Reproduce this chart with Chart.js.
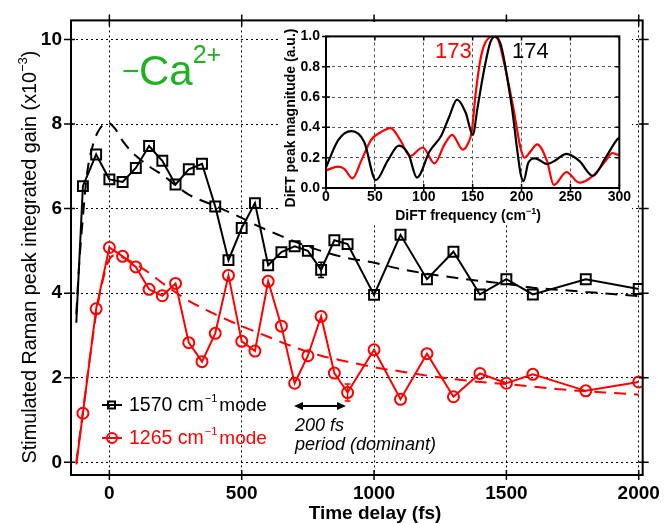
<!DOCTYPE html>
<html>
<head>
<meta charset="utf-8">
<script src="https://cdn.jsdelivr.net/npm/chart.js@4.4.1/dist/chart.umd.min.js"></script>
<style>
  html, body { margin: 0; padding: 0; background: #fff; }
  #wrap { position: relative; width: 667px; height: 523px; }
  #main { position: absolute; left: 0; top: 0; }
  #insetBox { position: absolute; left: 280px; top: 22px; width: 352px; height: 202px; background: #fff; }
</style>
</head>
<body>
<div id="wrap">
  <canvas id="main" width="667" height="523"></canvas>
  <div id="insetBox"><canvas id="inset" width="352" height="202"></canvas></div>
</div>
<script>
// main panel: SRS gain vs time delay
const delayFs = [-125, -100, -50, 0, 50, 100, 150, 200, 250, 300, 350, 400, 450, 500, 550, 600, 650, 700, 750, 800, 850, 900, 1000, 1100, 1200, 1300, 1400, 1500, 1600, 1800, 2000];
const gain1570 = [3.3, 6.53, 7.28, 6.69, 6.63, 6.96, 7.48, 7.13, 6.57, 6.93, 7.06, 6.05, 4.78, 5.54, 6.13, 4.66, 4.97, 5.11, 5.0, 4.55, 5.25, 5.16, 3.96, 5.38, 4.33, 4.98, 3.97, 4.33, 3.97, 4.33, 4.1];
const gain1265 = [-0.05, 1.16, 3.63, 5.08, 4.87, 4.62, 4.09, 3.94, 4.23, 2.83, 2.38, 3.05, 4.42, 2.86, 2.63, 4.28, 3.22, 1.87, 2.52, 3.45, 2.11, 1.65, 2.66, 1.49, 2.57, 1.55, 2.1, 1.87, 2.08, 1.69, 1.9];

const fit1570T = [-125, -115, -100, -85, -60, -35, -5, 20, 50, 80, 100, 150, 200, 250, 300, 400, 500, 550, 600, 650, 700, 800, 900, 1000, 1100, 1200, 1300, 1400, 1500, 1600, 1700, 1800, 1900, 2000];
const fit1570V = [3.5, 4.6, 5.8, 6.8, 7.55, 7.9, 8.03, 7.9, 7.6, 7.37, 7.25, 7.0, 6.8, 6.55, 6.33, 6.06, 5.78, 5.62, 5.48, 5.35, 5.22, 5.0, 4.83, 4.72, 4.57, 4.46, 4.37, 4.29, 4.22, 4.13, 4.08, 4.03, 3.98, 3.93];
const fit1265T = [-125, -100, -75, -50, -25, 0, 25, 50, 100, 150, 200, 250, 300, 350, 400, 500, 600, 700, 800, 900, 1000, 1100, 1200, 1300, 1400, 1500, 1600, 1700, 1800, 1900, 2000];
const fit1265V = [0.0, 1.2, 2.4, 3.5, 4.3, 4.8, 4.9, 4.85, 4.68, 4.48, 4.24, 4.02, 3.82, 3.65, 3.5, 3.22, 2.97, 2.72, 2.52, 2.38, 2.25, 2.15, 2.05, 1.97, 1.9, 1.85, 1.79, 1.73, 1.68, 1.64, 1.6];

const err1570T = [800];
const err1570E = [0.18];
const err1265T = [900];
const err1265E = [0.2];

const timeTicks = [0, 500, 1000, 1500, 2000];
const gainTicks = [0, 2, 4, 6, 8, 10];

// inset: DiFT spectra
const freq1570 = [0, 12.5, 26, 39, 51, 63, 74.5, 84.5, 93, 106, 118, 126, 134, 143, 150, 155, 160, 164, 168, 173, 178, 182, 186, 190.5, 195, 199, 202, 207, 214, 226, 234, 246, 259, 273, 286, 298, 300];
const mag1570 = [0.136, 0.316, 0.375, 0.305, 0.052, 0.179, 0.28, 0.221, 0.069, 0.242, 0.347, 0.47, 0.583, 0.495, 0.35, 0.53, 0.72, 0.853, 0.96, 1.0, 0.96, 0.853, 0.7, 0.515, 0.28, 0.095, 0.045, 0.168, 0.196, 0.158, 0.18, 0.225, 0.179, 0.08, 0.2, 0.322, 0.33];
const freq1265 = [0, 12.5, 19, 27, 36, 46, 56, 66, 76, 86, 99, 111, 121, 129, 140, 145, 149, 153, 158, 163, 171, 176, 182, 187, 192, 199, 203, 209, 216, 226, 233, 246, 259, 273, 286, 293, 298, 300];
const mag1265 = [0.116, 0.141, 0.125, 0.063, 0.179, 0.316, 0.368, 0.395, 0.316, 0.21, 0.267, 0.162, 0.284, 0.351, 0.253, 0.29, 0.37, 0.62, 0.85, 0.96, 1.0, 0.98, 0.83, 0.68, 0.515, 0.263, 0.2, 0.24, 0.288, 0.179, 0.02, 0.105, 0.035, 0.08, 0.179, 0.231, 0.22, 0.22];

const freqTicks = [0, 50, 100, 150, 200, 250, 300];
const magTicks = [0, 0.2, 0.4, 0.6, 0.8, 1.0];

const FONT = "'Liberation Sans', Arial, Helvetica, sans-serif";
Chart.defaults.font.family = FONT;

function pts(xs, ys) {
  return xs.map((x, i) => ({ x, y: ys[i] }));
}

// draws a run of text pieces (for superscripts); align 'left' or 'center'
function richText(ctx, parts, x, y, align) {
  let w = 0;
  parts.forEach((p) => { ctx.font = p.font; w += ctx.measureText(p.text).width + (p.gap || 0); });
  let cx = align === 'center' ? x - w / 2 : x;
  ctx.textAlign = 'left';
  ctx.textBaseline = 'alphabetic';
  parts.forEach((p) => {
    ctx.font = p.font;
    ctx.fillStyle = p.color || '#000';
    cx += p.gap || 0;
    ctx.fillText(p.text, cx, y - (p.rise || 0));
    cx += ctx.measureText(p.text).width;
  });
}

function errorBars(ctx, xs, ys, errT, errE, color, sx, sy) {
  ctx.strokeStyle = color;
  ctx.lineWidth = 1.5;
  ctx.beginPath();
  errT.forEach((t, i) => {
    const v = ys[xs.indexOf(t)];
    const px = sx.getPixelForValue(t);
    const y1 = sy.getPixelForValue(v + errE[i]);
    const y2 = sy.getPixelForValue(v - errE[i]);
    ctx.moveTo(px, y1); ctx.lineTo(px, y2);
    ctx.moveTo(px - 3, y1); ctx.lineTo(px + 3, y1);
    ctx.moveTo(px - 3, y2); ctx.lineTo(px + 3, y2);
  });
  ctx.stroke();
}

function legendLabel(ctx, num, color, x, y) {
  richText(ctx, [
    { text: num + ' cm', font: `19.5px ${FONT}`, color },
    { text: '\u22121', font: `11px ${FONT}`, color, rise: 9, gap: 1 },
    { text: 'mode', font: `19px ${FONT}`, color, gap: 2 },
  ], x, y, 'left');
}

const mainDecor = {
  id: 'mainDecor',
  afterDraw(chart) {
    const { ctx, chartArea: a, scales: { x, y } } = chart;
    ctx.save();
    errorBars(ctx, delayFs, gain1570, err1570T, err1570E, '#000', x, y);
    errorBars(ctx, delayFs, gain1265, err1265T, err1265E, '#ff0000', x, y);

    // ticks on all four sides
    ctx.strokeStyle = '#000';
    ctx.lineWidth = 1.5;
    ctx.beginPath();
    timeTicks.forEach((v) => {
      const px = x.getPixelForValue(v);
      ctx.moveTo(px, a.top - 6); ctx.lineTo(px, a.top + 6);
      ctx.moveTo(px, a.bottom - 5); ctx.lineTo(px, a.bottom + 5);
    });
    gainTicks.forEach((v) => {
      const py = y.getPixelForValue(v);
      ctx.moveTo(a.left - 7, py); ctx.lineTo(a.left + 4, py);
      ctx.moveTo(a.right - 4, py); ctx.lineTo(a.right + 6, py);
    });
    ctx.stroke();
    ctx.lineWidth = 2;
    ctx.strokeRect(a.left, a.top, a.right - a.left, a.bottom - a.top);

    // axis titles
    richText(ctx, [{ text: 'Time delay (fs)', font: `bold 19px ${FONT}` }], 375, 519, 'center');
    ctx.save();
    ctx.translate(36, 257);
    ctx.rotate(-Math.PI / 2);
    richText(ctx, [
      { text: 'Stimulated Raman peak integrated gain (x10', font: `19.8px ${FONT}` },
      { text: '\u22123', font: `13px ${FONT}`, rise: 9 },
      { text: ')', font: `19.8px ${FONT}` },
    ], 0, 0, 'center');
    ctx.restore();

    // -Ca2+ label
    richText(ctx, [{ text: '\u2212', font: `30px ${FONT}`, color: '#1fb11f' }], 122, 81, 'left');
    richText(ctx, [
      { text: 'Ca', font: `42px ${FONT}`, color: '#1fb11f' },
      { text: '2+', font: `25px ${FONT}`, color: '#1fb11f', rise: 22 },
    ], 139, 85, 'left');

    // legend
    ctx.lineWidth = 2;
    ctx.strokeStyle = '#000';
    ctx.beginPath(); ctx.moveTo(102, 405); ctx.lineTo(122, 405); ctx.stroke();
    ctx.strokeRect(108, 401.5, 7, 7);
    legendLabel(ctx, '1570', '#000', 129, 411);
    ctx.strokeStyle = '#ff0000';
    ctx.beginPath(); ctx.moveTo(102, 438); ctx.lineTo(122, 438); ctx.stroke();
    ctx.beginPath(); ctx.arc(112, 438, 5, 0, Math.PI * 2); ctx.stroke();
    legendLabel(ctx, '1265', '#ff0000', 129, 444);

    // 200 fs arrow
    ctx.strokeStyle = '#000';
    ctx.fillStyle = '#000';
    ctx.lineWidth = 2;
    ctx.beginPath(); ctx.moveTo(300, 406); ctx.lineTo(340, 406); ctx.stroke();
    ctx.beginPath(); ctx.moveTo(294, 406); ctx.lineTo(303, 402); ctx.lineTo(303, 410); ctx.closePath(); ctx.fill();
    ctx.beginPath(); ctx.moveTo(346, 406); ctx.lineTo(337, 402); ctx.lineTo(337, 410); ctx.closePath(); ctx.fill();
    richText(ctx, [{ text: '200 fs', font: `italic 18px ${FONT}` }], 295, 431, 'left');
    richText(ctx, [{ text: 'period (dominant)', font: `italic 18px ${FONT}` }], 295, 450, 'left');
    ctx.restore();
  },
};

new Chart(document.getElementById('main'), {
  type: 'line',
  data: {
    datasets: [
      {
        data: pts(delayFs, gain1570),
        borderColor: '#000',
        borderWidth: 2,
        pointStyle: 'rect',
        pointRadius: (c) => (c.dataIndex === 0 ? 0 : 7),
        pointBorderWidth: 2,
        pointBorderColor: '#000',
        pointBackgroundColor: 'rgba(0,0,0,0)',
        order: 0,
      },
      {
        data: pts(delayFs, gain1265),
        borderColor: '#ff0000',
        borderWidth: 2,
        pointStyle: 'circle',
        pointRadius: (c) => (c.dataIndex === 0 ? 0 : 5.5),
        pointBorderWidth: 2,
        pointBorderColor: '#ff0000',
        pointBackgroundColor: 'rgba(0,0,0,0)',
        order: 1,
      },
      {
        data: pts(fit1570T, fit1570V),
        borderColor: '#000',
        borderWidth: 2,
        borderDash: [12, 8],
        pointRadius: 0,
        cubicInterpolationMode: 'monotone',
        order: 2,
      },
      {
        data: pts(fit1265T, fit1265V),
        borderColor: '#ff0000',
        borderWidth: 2,
        borderDash: [12, 8],
        pointRadius: 0,
        cubicInterpolationMode: 'monotone',
        order: 3,
      },
    ],
  },
  options: {
    responsive: false,
    animation: false,
    devicePixelRatio: 1,
    layout: { padding: { left: 0, right: 22, top: 17, bottom: 0 } },
    plugins: { legend: { display: false }, tooltip: { enabled: false } },
    scales: {
      x: {
        type: 'linear',
        min: -145,
        max: 2015,
        afterBuildTicks: (s) => { s.ticks = timeTicks.map((v) => ({ value: v })); },
        afterFit: (s) => { s.height = 48; },
        grid: { color: '#000', lineWidth: 1, drawTicks: false },
        border: { display: false, dash: [2, 3] },
        ticks: { color: '#000', font: { size: 19, weight: 'bold' }, padding: 7, maxRotation: 0, callback: (v) => String(v) },
      },
      y: {
        type: 'linear',
        min: -0.3,
        max: 10.45,
        afterBuildTicks: (s) => { s.ticks = gainTicks.map((v) => ({ value: v })); },
        afterFit: (s) => { s.width = 71; },
        grid: { color: '#000', lineWidth: 1, drawTicks: false },
        border: { display: false, dash: [2, 3] },
        ticks: { color: '#000', font: { size: 19, weight: 'bold' }, padding: 9, callback: (v) => String(v) },
      },
    },
  },
  plugins: [mainDecor],
});

const insetDecor = {
  id: 'insetDecor',
  afterDraw(chart) {
    const { ctx, chartArea: a, scales: { x, y } } = chart;
    ctx.save();
    ctx.strokeStyle = '#000';
    ctx.lineWidth = 1.5;
    ctx.beginPath();
    freqTicks.forEach((v) => {
      const px = x.getPixelForValue(v);
      ctx.moveTo(px, a.bottom - 4); ctx.lineTo(px, a.bottom + 3);
      ctx.moveTo(px, a.top); ctx.lineTo(px, a.top + 4);
    });
    magTicks.forEach((v) => {
      const py = y.getPixelForValue(v);
      ctx.moveTo(a.left - 4, py); ctx.lineTo(a.left + 4, py);
      ctx.moveTo(a.right - 4, py); ctx.lineTo(a.right, py);
    });
    ctx.stroke();
    ctx.lineWidth = 2;
    ctx.strokeRect(a.left, a.top, a.right - a.left, a.bottom - a.top);

    richText(ctx, [{ text: '173', font: `22px ${FONT}`, color: '#ff0000' }], 155, 36, 'left');
    richText(ctx, [{ text: '174', font: `22px ${FONT}`, color: '#000' }], 232, 36, 'left');

    richText(ctx, [
      { text: 'DiFT frequency (cm', font: `bold 14px ${FONT}` },
      { text: '\u22121', font: `bold 9px ${FONT}`, rise: 6 },
      { text: ')', font: `bold 14px ${FONT}` },
    ], 188, 198, 'center');
    ctx.save();
    ctx.translate(15, 96);
    ctx.rotate(-Math.PI / 2);
    richText(ctx, [{ text: 'DiFT peak magnitude (a.u.)', font: `bold 14px ${FONT}` }], 0, 0, 'center');
    ctx.restore();
    ctx.restore();
  },
};

new Chart(document.getElementById('inset'), {
  type: 'line',
  data: {
    datasets: [
      {
        data: pts(freq1570, mag1570),
        borderColor: '#000',
        borderWidth: 2.2,
        pointRadius: 0,
        cubicInterpolationMode: 'monotone',
        order: 0,
      },
      {
        data: pts(freq1265, mag1265),
        borderColor: '#ff0000',
        borderWidth: 2.2,
        pointRadius: 0,
        cubicInterpolationMode: 'monotone',
        order: 1,
      },
    ],
  },
  options: {
    responsive: false,
    animation: false,
    devicePixelRatio: 1,
    layout: { padding: { left: 0, right: 8, top: 8, bottom: 0 } },
    plugins: { legend: { display: false }, tooltip: { enabled: false } },
    scales: {
      x: {
        type: 'linear',
        min: 0,
        max: 300,
        afterBuildTicks: (s) => { s.ticks = freqTicks.map((v) => ({ value: v })); },
        afterFit: (s) => { s.height = 36; },
        grid: { color: '#555', lineWidth: 1, drawTicks: false },
        border: { display: false, dash: [3, 3] },
        ticks: { color: '#000', font: { size: 14, weight: 'bold' }, padding: 1, maxRotation: 0, callback: (v) => String(v) },
      },
      y: {
        type: 'linear',
        min: 0,
        max: 1,
        afterBuildTicks: (s) => { s.ticks = magTicks.map((v) => ({ value: v })); },
        afterFit: (s) => { s.width = 46; },
        grid: { color: '#555', lineWidth: 1, drawTicks: false },
        border: { display: false, dash: [3, 3] },
        ticks: { color: '#000', font: { size: 14, weight: 'bold' }, padding: 6, callback: (v) => Number(v).toFixed(1) },
      },
    },
  },
  plugins: [insetDecor],
});
</script>
</body>
</html>
